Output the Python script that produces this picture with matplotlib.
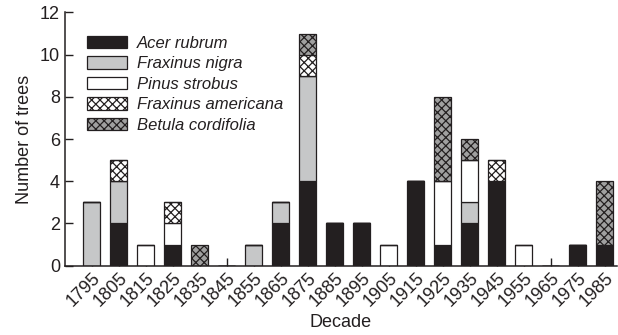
import matplotlib
matplotlib.use("Agg")
import matplotlib.pyplot as plt
import numpy as np

decades = ["1795", "1805", "1815", "1825", "1835", "1845", "1855", "1865", "1875", "1885",
           "1895", "1905", "1915", "1925", "1935", "1945", "1955", "1965", "1975", "1985"]
acer_rubrum =        [0, 2, 0, 1, 0, 0, 0, 2, 4, 2, 2, 0, 4, 1, 2, 4, 0, 0, 1, 1]
fraxinus_nigra =     [3, 2, 0, 0, 0, 0, 1, 1, 5, 0, 0, 0, 0, 0, 1, 0, 0, 0, 0, 0]
pinus_strobus =      [0, 0, 1, 1, 0, 0, 0, 0, 0, 0, 0, 1, 0, 3, 2, 0, 1, 0, 0, 0]
fraxinus_americana = [0, 1, 0, 1, 0, 0, 0, 0, 1, 0, 0, 0, 0, 0, 0, 1, 0, 0, 0, 0]
betula_cordifolia =  [0, 0, 0, 0, 1, 0, 0, 0, 1, 0, 0, 0, 0, 4, 1, 0, 0, 0, 0, 3]

series = [
    ("Acer rubrum", acer_rubrum, "#231f20", None),
    ("Fraxinus nigra", fraxinus_nigra, "#c6c7c8", None),
    ("Pinus strobus", pinus_strobus, "white", None),
    ("Fraxinus americana", fraxinus_americana, "white", "xxxx"),
    ("Betula cordifolia", betula_cordifolia, "#a0a0a0", "xxxx"),
]

plt.rcParams["font.family"] = ["Liberation Sans", "DejaVu Sans"]
plt.rcParams["hatch.linewidth"] = 0.9
plt.rcParams["hatch.color"] = "#231f20"
fig = plt.figure(figsize=(6.18, 3.35), dpi=100)
ax = fig.add_axes([0.105, 0.207, 0.893, 0.756])
ax.set_axisbelow(True)

x = np.arange(len(decades))
bottom = np.zeros(len(decades))
for name, vals, color, hatch in series:
    vals = np.array(vals, dtype=float)
    ax.bar(x, vals, 0.63, bottom=bottom, color=color, edgecolor="#231f20",
           linewidth=0.9, hatch=hatch, label=name, zorder=2)
    bottom += vals

ax.set_xlim(-1, 19.45)
ax.set_ylim(0, 12)
ax.set_yticks(range(0, 13, 2))
ax.set_xticks(x)
ax.set_xticklabels(decades, rotation=45, ha="right", rotation_mode="anchor", fontsize=13)
ax.tick_params(axis="y", labelsize=13)
ax.tick_params(direction="in", length=6, width=1, color="#231f20", labelcolor="#231f20")
ax.tick_params(axis="x", pad=3)
for s in ["top", "right"]:
    ax.spines[s].set_visible(False)
for s in ["left", "bottom"]:
    ax.spines[s].set_linewidth(1.1)
    ax.spines[s].set_color("#231f20")
    ax.spines[s].set_zorder(3)

ax.set_ylabel("Number of trees", fontsize=13, color="#231f20", labelpad=5)
ax.set_xlabel("Decade", fontsize=13, color="#231f20", labelpad=3)

leg = ax.legend(loc="upper left", bbox_to_anchor=(0.028, 0.935), frameon=False,
                prop={"style": "italic", "size": 12}, handlelength=2.4,
                handleheight=0.8, labelspacing=0.32, handletextpad=0.6,
                borderaxespad=0.0)
for t in leg.get_texts():
    t.set_color("#231f20")

fig.savefig("out.png", dpi=100)
